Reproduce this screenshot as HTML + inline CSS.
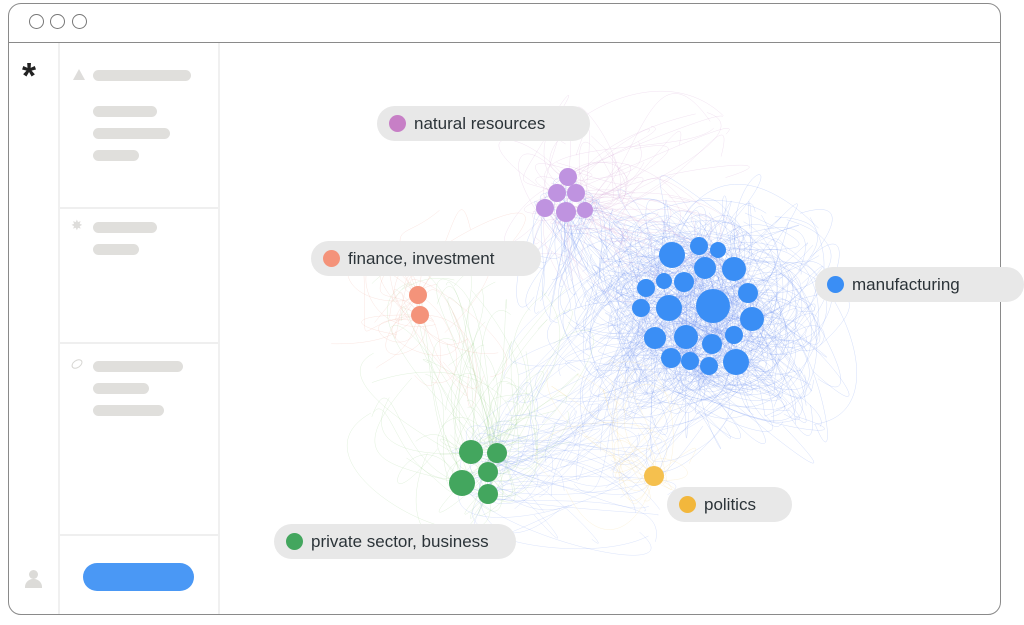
<!DOCTYPE html>
<html><head><meta charset="utf-8"><style>
html,body{margin:0;padding:0;background:#fff;width:1024px;height:625px;overflow:hidden;font-family:"Liberation Sans",sans-serif}
.win{position:absolute;left:8px;top:3px;width:993px;height:612px;border:1.5px solid #8a8a8a;border-radius:13px;box-sizing:border-box;overflow:hidden;background:#fff}
.tb{position:absolute;left:0;top:0;width:100%;height:38px;border-bottom:1.5px solid #8a8a8a}
.dot{position:absolute;top:10px;width:15px;height:15px;border:1.3px solid #777;border-radius:50%;box-sizing:border-box}
.col{position:absolute;left:49px;top:39px;width:158px;height:580px;border-left:2px solid #f0f0f0;border-right:2px solid #f0f0f0;background:#fff}
.sep{position:absolute;left:0;width:158px;height:2px;background:#efefef}
.bar{position:absolute;height:11px;border-radius:6px;background:#e0dfdc}
.pill{position:absolute;height:35px;border-radius:18px;background:#e8e8e8;font-size:17px;color:#2b3338;line-height:35px;box-sizing:border-box;padding-left:37px}
.pill i{position:absolute;left:12px;top:9px;width:17px;height:17px;border-radius:50%}
</style></head><body>
<div class="win">
<div class="tb"></div>
<div class="dot" style="left:20px"></div><div class="dot" style="left:41px"></div><div class="dot" style="left:63px"></div>
<div style="position:absolute;left:13px;top:52px;font-size:36px;font-weight:bold;color:#222;line-height:40px">*</div>
<div class="col">
<div class="sep" style="top:164px"></div><div class="sep" style="top:299px"></div><div class="sep" style="top:491px"></div>
</div>
<svg style="position:absolute;left:64px;top:65px" width="12" height="11"><polygon points="6,0 12,11 0,11" fill="#dedddb"/></svg>
<div class="bar" style="left:84px;top:66px;width:98px"></div>
<div class="bar" style="left:84px;top:102px;width:64px"></div>
<div class="bar" style="left:84px;top:124px;width:77px"></div>
<div class="bar" style="left:84px;top:146px;width:46px"></div>
<div style="position:absolute;left:62px;top:213px;color:#dedddb;font-size:14px">✸</div>
<div class="bar" style="left:84px;top:218px;width:64px"></div>
<div class="bar" style="left:84px;top:240px;width:46px"></div>
<div style="position:absolute;left:62px;top:356px;width:10px;height:6px;border:1.5px solid #d6d5d2;border-radius:50%;transform:rotate(-35deg)"></div>
<div class="bar" style="left:84px;top:357px;width:90px"></div>
<div class="bar" style="left:84px;top:379px;width:56px"></div>
<div class="bar" style="left:84px;top:401px;width:71px"></div>
<div style="position:absolute;left:20px;top:566px;width:9px;height:9px;border-radius:50%;background:#dcdbd8"></div>
<div style="position:absolute;left:16px;top:575px;width:17px;height:9px;border-radius:8px 8px 0 0;background:#dcdbd8"></div>
<div style="position:absolute;left:74px;top:559px;width:111px;height:28px;border-radius:14px;background:#4a98f5"></div>
</div>
<svg id="g" style="position:absolute;left:0;top:0" width="1024" height="625"></svg>
<div class="pill" style="left:377px;top:106px;width:213px"><i style="background:#c77fc6"></i>natural resources</div>
<div class="pill" style="left:311px;top:241px;width:230px"><i style="background:#f4937a"></i>finance, investment</div>
<div class="pill" style="left:815px;top:267px;width:209px"><i style="background:#3a8ef5"></i>manufacturing</div>
<div class="pill" style="left:667px;top:487px;width:125px"><i style="background:#f2b73c"></i>politics</div>
<div class="pill" style="left:274px;top:524px;width:242px"><i style="background:#43a65e"></i>private sector, business</div>
<script>
var s=7;function r(){s=(s*16807)%2147483647;return s/2147483647;}
var g=document.getElementById('g'),h='';
var blue=[[672,255,13],[699,246,9],[718,250,8],[705,268,11],[734,269,12],[664,281,8],[684,282,10],[646,288,9],[748,293,10],[641,308,9],[669,308,13],[713,306,17],[752,319,12],[655,338,11],[686,337,12],[734,335,9],[712,344,10],[671,358,10],[690,361,9],[709,366,9],[736,362,13]];
var purple=[[568,177,9],[557,193,9],[576,193,9],[545,208,9],[566,212,10],[585,210,8]];
var orange=[[418,295,9],[420,315,9]];
var green=[[471,452,12],[497,453,10],[488,472,10],[462,483,13],[488,494,10]];
var yellow=[[654,476,10]];
function curves(src,col,n,cx,cy,spread,op){for(var i=0;i<n;i++){var a=src[Math.floor(r()*src.length)];var b=[cx+(r()-.5)*spread,cy+(r()-.5)*spread*0.9];
var c1x=a[0]+(r()-.5)*spread,c1y=a[1]+(r()-.5)*spread,c2x=b[0]+(r()-.5)*spread,c2y=b[1]+(r()-.5)*spread;
h+='<path d="M'+a[0]+' '+a[1]+'C'+c1x.toFixed(1)+' '+c1y.toFixed(1)+' '+c2x.toFixed(1)+' '+c2y.toFixed(1)+' '+b[0].toFixed(1)+' '+b[1].toFixed(1)+'" stroke="'+col+'" stroke-width="0.5" fill="none" opacity="'+op+'"/>';}}
curves(blue,'#6a8ff0',380,700,320,240,0.3);
curves(blue,'#6a8ff0',60,580,430,160,0.25);
curves(purple,'#d0a0d0',70,630,200,200,0.3);
curves(purple,'#6a8ff0',40,580,280,100,0.3);
curves(green,'#9ccf8a',70,470,370,200,0.3);
curves(green,'#6a8ff0',50,590,470,160,0.25);
curves(orange,'#f0aa98',30,430,300,200,0.3);
curves(yellow,'#f2d38a',20,610,430,160,0.3);
function dots(a,c){a.forEach(function(p){h+='<circle cx="'+p[0]+'" cy="'+p[1]+'" r="'+p[2]+'" fill="'+c+'"/>';});}
dots(blue,'#3a8ef5');dots(purple,'#bf93e0');dots(orange,'#f4937a');dots(green,'#43a65e');dots(yellow,'#f5c04e');
g.innerHTML=h;
</script>
</body></html>
